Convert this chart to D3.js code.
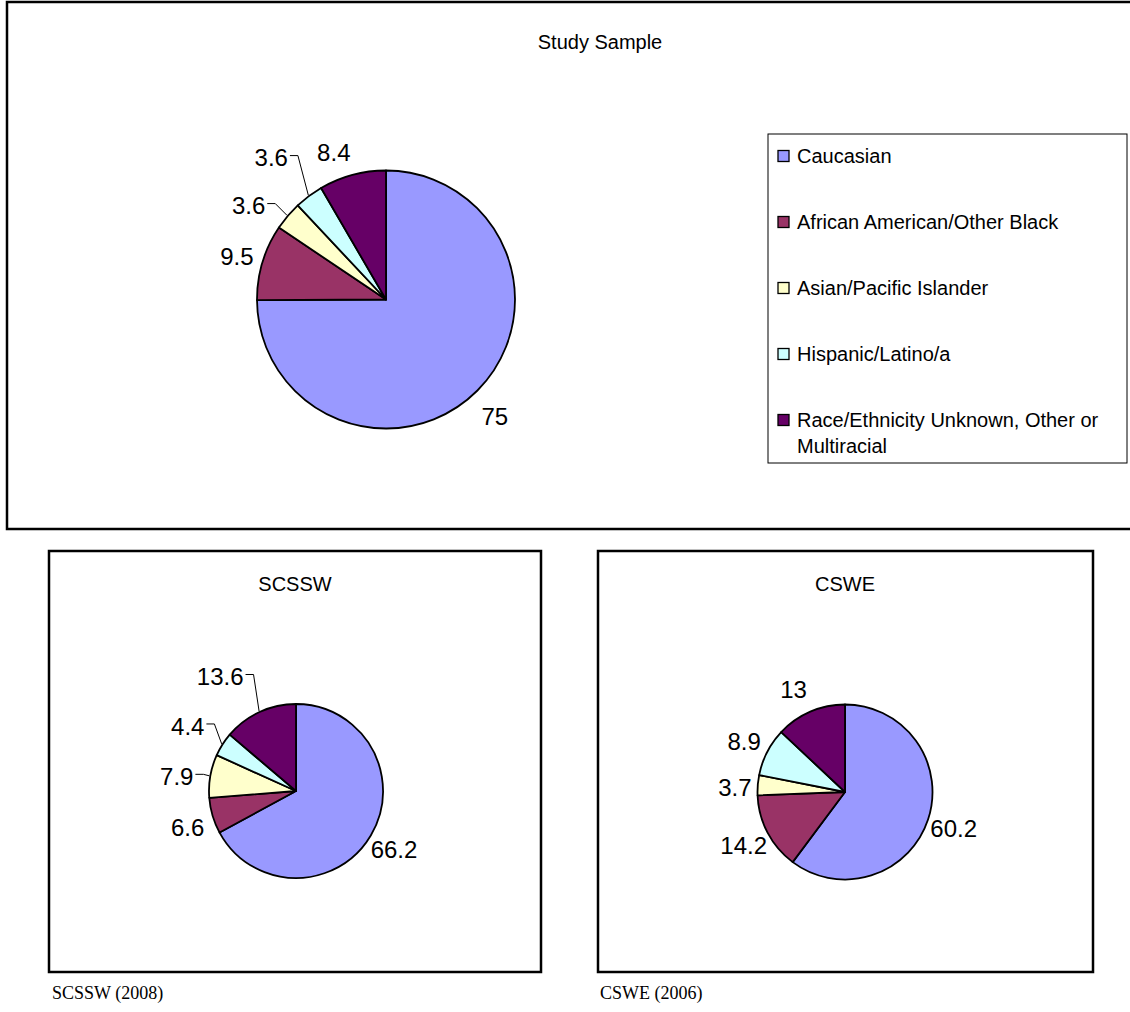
<!DOCTYPE html>
<html>
<head>
<meta charset="utf-8">
<script src="https://cdn.jsdelivr.net/npm/d3@7"></script>
<style>
  html, body { margin: 0; padding: 0; background: #fff; }
  svg { display: block; }
</style>
</head>
<body>
<script>
// ---------- data ----------
const categories = [
  "Caucasian",
  "African American/Other Black",
  "Asian/Pacific Islander",
  "Hispanic/Latino/a",
  "Race/Ethnicity Unknown, Other or Multiracial"
];
const legendLines = [
  ["Caucasian"],
  ["African American/Other Black"],
  ["Asian/Pacific Islander"],
  ["Hispanic/Latino/a"],
  ["Race/Ethnicity Unknown, Other or", "Multiracial"]
];
const studySampleValues = [75, 9.5, 3.6, 3.6, 8.4];
const scsswValues = [66.2, 6.6, 7.9, 4.4, 13.6];
const csweValues = [60.2, 14.2, 3.7, 8.9, 13];
const chartTitles = ["Study Sample", "SCSSW", "CSWE"];
const sourceNotes = ["SCSSW (2008)", "CSWE (2006)"];
const sliceColors = ["#9999FF", "#993366", "#FFFFCC", "#CCFFFF", "#660066"];

// ---------- layout (not data) ----------
const W = 1130, H = 1012;
const svg = d3.select("body").append("svg").attr("width", W).attr("height", H);
const FONT = "Arial, 'Liberation Sans', Helvetica, sans-serif";
const SERIF = "'Times New Roman', 'Liberation Serif', serif";

const color = d3.scaleOrdinal().domain(categories).range(sliceColors);
const pie = d3.pie().sort(null).value(d => d);

function frame(x, y, w, h, sw) {
  svg.append("rect").attr("x", x).attr("y", y).attr("width", w).attr("height", h)
    .attr("fill", "none").attr("stroke", "#000").attr("stroke-width", sw);
}

function drawPie(values, cfg) {
  const g = svg.append("g").attr("transform", `translate(${cfg.cx},${cfg.cy})`);
  const arc = d3.arc().innerRadius(0).outerRadius(cfg.r);
  const arcs = pie(values);
  g.selectAll("path.slice").data(arcs).join("path")
    .attr("class", "slice")
    .attr("d", arc)
    .attr("fill", (d, i) => color(categories[i]))
    .attr("stroke", "#000")
    .attr("stroke-width", 1.8)
    .attr("stroke-linejoin", "round");

  arcs.forEach((a, i) => {
    const mid = (a.startAngle + a.endAngle) / 2;
    const dx = Math.sin(mid), dy = -Math.cos(mid);
    const nd = cfg.nudge[i] || [0, 0];
    const lx = dx * (cfg.r + cfg.gap) + nd[0];
    const ly = dy * (cfg.r + cfg.gap) + nd[1];
    const t = g.append("text")
      .attr("x", lx).attr("y", ly).attr("dy", "0.36em")
      .attr("text-anchor", "middle")
      .attr("font-family", FONT).attr("font-size", cfg.fs).attr("fill", "#000")
      .text(String(a.data));
    if (cfg.leader[i]) {
      const w = t.node().getComputedTextLength();
      const x0 = lx + w / 2 + 2, y0 = ly - 2;
      const ex = dx * (cfg.r + 1), ey = dy * (cfg.r + 1);
      g.append("path")
        .attr("d", `M${x0},${y0}H${x0 + 8}L${ex},${ey}`)
        .attr("fill", "none").attr("stroke", "#000").attr("stroke-width", 1);
    }
  });
}

// ---------- top panel ----------
frame(7, 2, 1130, 527, 2.5);
svg.append("text").attr("x", 600).attr("y", 49).attr("text-anchor", "middle")
  .attr("font-family", FONT).attr("font-size", 20).text(chartTitles[0]);

drawPie(studySampleValues, {
  cx: 386, cy: 299.5, r: 129, gap: 33, fs: 24,
  nudge: [[-6, 3], [6, 4], [-14, 11], [-18, -12], [-10, 9]],
  leader: [false, false, true, true, false]
});

// legend
const lg = svg.append("g");
lg.append("rect").attr("x", 768).attr("y", 134).attr("width", 359).attr("height", 329)
  .attr("fill", "#fff").attr("stroke", "#000").attr("stroke-width", 1);
const legendY = d3.scalePoint().domain(categories).range([156, 420]);
categories.forEach((c, i) => {
  const y = legendY(c);
  lg.append("rect").attr("x", 778).attr("y", y - 5.5).attr("width", 11).attr("height", 11)
    .attr("fill", color(c)).attr("stroke", "#000").attr("stroke-width", 1.3);
  legendLines[i].forEach((line, j) => {
    lg.append("text").attr("x", 797).attr("y", y + j * 26).attr("dy", "0.35em")
      .attr("font-family", FONT).attr("font-size", 20).text(line);
  });
});

// ---------- bottom panels ----------
frame(49, 551, 492, 421, 2.5);
svg.append("text").attr("x", 295).attr("y", 591).attr("text-anchor", "middle")
  .attr("font-family", FONT).attr("font-size", 20).text(chartTitles[1]);
drawPie(scsswValues, {
  cx: 296, cy: 791, r: 87, gap: 27, fs: 24,
  nudge: [[0, 0], [1, 4], [-7, 5], [-12, -4], [-28, -11]],
  leader: [false, false, true, true, true]
});

frame(598, 551, 495, 421, 2.5);
svg.append("text").attr("x", 845).attr("y", 591).attr("text-anchor", "middle")
  .attr("font-family", FONT).attr("font-size", 20).text(chartTitles[2]);
drawPie(csweValues, {
  cx: 845, cy: 792, r: 87.5, gap: 27, fs: 24,
  nudge: [[0, 0], [0, 0], [4, 4], [1, 2], [-6, 2]],
  leader: [false, false, false, false, false]
});

// source notes
svg.append("text").attr("x", 52).attr("y", 999)
  .attr("font-family", SERIF).attr("font-size", 18).text(sourceNotes[0]);
svg.append("text").attr("x", 600).attr("y", 999)
  .attr("font-family", SERIF).attr("font-size", 18).text(sourceNotes[1]);
</script>
</body>
</html>
